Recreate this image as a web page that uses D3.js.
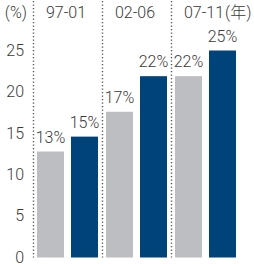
<!DOCTYPE html>
<html>
<head>
<meta charset="utf-8">
<script src="https://cdn.jsdelivr.net/npm/d3@7"></script>
<style>
  body { margin: 0; background: white; }
  text { font-family: Roboto, "Noto Sans CJK JP", sans-serif; fill: #3a3a3a; font-weight: 300; }
</style>
</head>
<body>
<script>
const periods = ["97-01", "02-06", "07-11"];
const series = ["a", "b"];
const valuesA = [12.8, 17.6, 21.9];
const valuesB = [14.6, 21.9, 25.0];
const labelsA = ["13%", "17%", "22%"];
const labelsB = ["15%", "22%", "25%"];
const yTicks = [0, 5, 10, 15, 20, 25];
const unitLabel = "(%)";
const yearSuffix = "(年)";

const colors = { a: "#bdbec2", b: "#00437b" };
const fs = "16px";

const bars = [];
periods.forEach((p, i) => {
  bars.push({ period: p, s: "a", v: valuesA[i], label: labelsA[i] });
  bars.push({ period: p, s: "b", v: valuesB[i], label: labelsB[i] });
});

const svg = d3.select("body").append("svg")
  .attr("width", 254)
  .attr("height", 264);

const x0 = d3.scaleBand().domain(periods).range([33, 240]);
const x1 = d3.scaleBand().domain(series).range([0, x0.bandwidth()])
  .paddingInner(0.206).paddingOuter(0.118);
const y = d3.scaleLinear().domain([0, 25]).range([257.5, 50.5]);

// dotted separators
svg.selectAll(".sep")
  .data(periods)
  .join("line")
  .attr("class", "sep")
  .attr("x1", d => Math.round(x0(d)) + 0.5)
  .attr("x2", d => Math.round(x0(d)) + 0.5)
  .attr("y1", 1)
  .attr("y2", y(0))
  .style("stroke", "#555")
  .style("stroke-width", 1.4)
  .style("stroke-dasharray", "1.3,2.2");

// y axis
const yAxis = svg.append("g")
  .attr("transform", "translate(33,0)")
  .call(d3.axisLeft(y).tickValues(yTicks).tickSize(0).tickPadding(9));
yAxis.select(".domain").remove();
yAxis.selectAll("text")
  .style("font-size", fs)
  .style("fill", "#3a3a3a")
  .style("font-family", "Roboto, sans-serif")
  .style("font-weight", 300)
  .attr("dy", "0.3em");

svg.append("text")
  .attr("x", 27)
  .attr("y", 18.3)
  .attr("text-anchor", "end")
  .style("font-size", fs)
  .text(unitLabel);

// period headers
const heads = svg.selectAll(".head")
  .data(periods)
  .join("text")
  .attr("class", "head")
  .attr("x", d => x0(d) + x0.bandwidth() / 2 - 1.5)
  .attr("y", 18.3)
  .attr("text-anchor", "middle")
  .style("font-size", fs)
  .text(d => d);

const lastHead = heads.filter((d, i) => i === periods.length - 1);
const lastX = x0(periods[periods.length - 1]) + x0.bandwidth() / 2 - 1.5;
const w = lastHead.node().getComputedTextLength();
svg.append("text")
  .attr("x", lastX + w / 2 + 1)
  .attr("y", 18.3)
  .style("font-size", fs)
  .text(yearSuffix);

// bars
svg.selectAll(".bar")
  .data(bars)
  .join("rect")
  .attr("class", "bar")
  .attr("x", d => x0(d.period) + x1(d.s))
  .attr("width", x1.bandwidth())
  .attr("y", d => y(d.v))
  .attr("height", d => y(0) - y(d.v))
  .style("fill", d => colors[d.s]);

svg.selectAll(".val")
  .data(bars)
  .join("text")
  .attr("class", "val")
  .attr("x", d => x0(d.period) + x1(d.s) + x1.bandwidth() / 2)
  .attr("y", d => y(d.v) - 9)
  .attr("text-anchor", "middle")
  .style("font-size", fs)
  .text(d => d.label);
</script>
</body>
</html>
